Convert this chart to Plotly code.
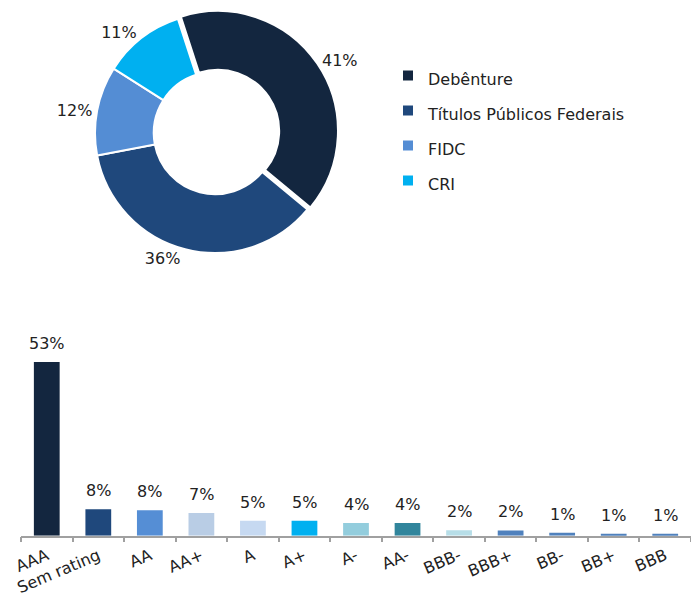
import plotly.graph_objects as go

# Donut: portfolio by asset type
asset_types = ["Debênture", "Títulos Públicos Federais", "FIDC", "CRI"]
asset_share = [41, 36, 12, 11]
asset_colors = ["#13263F", "#1F487C", "#548DD4", "#00B0F0"]

# Bars: portfolio by rating
ratings = ["AAA", "Sem rating", "AA", "AA+", "A", "A+", "A-", "AA-",
           "BBB-", "BBB+", "BB-", "BB+", "BBB"]
rating_share = [53, 8.1, 7.8, 6.9, 4.6, 4.6, 3.9, 3.9, 1.7, 1.6, 0.9, 0.6, 0.6]
rating_colors = ["#13263F", "#1F487C", "#558ED5", "#B9CDE5", "#C6D9F1",
                 "#00B0F0", "#93CDDD", "#31859C", "#B7DEE8", "#4F81BD",
                 "#4F81BD", "#4F81BD", "#4F81BD"]

FONT = "Verdana, DejaVu Sans, sans-serif"
TXT = "#222222"
W, H = 691, 596

fig = go.Figure()

fig.add_trace(go.Pie(
    labels=[f'<span style="font-size:16px">{a}</span>' for a in asset_types],
    values=asset_share,
    marker=dict(colors=asset_colors, line=dict(color="white", width=2)),
    hole=0.51,
    sort=False,
    direction="clockwise",
    rotation=-18,
    pull=[0.03, 0, 0, 0],
    textinfo="percent",
    textposition="outside",
    textfont=dict(size=16, color=TXT, family=FONT),
    domain=dict(x=[(215 - 123.6) / W, (215 + 123.6) / W],
                y=[1 - (133 + 123.6) / H, 1 - (133 - 123.6) / H]),
    automargin=False,
    showlegend=True,
))

fig.add_trace(go.Bar(
    x=ratings,
    y=rating_share,
    marker=dict(color=rating_colors, line=dict(width=0)),
    width=0.5,
    showlegend=False,
    hoverinfo="x+y",
))

for r, v in zip(ratings, rating_share):
    fig.add_annotation(x=r, y=v, text=f"{round(v)}%", showarrow=False,
                       yanchor="bottom", yshift=7,
                       font=dict(size=16, color=TXT, family=FONT))

fig.update_layout(
    width=W, height=H,
    margin=dict(l=0, r=0, t=0, b=0, autoexpand=False),
    paper_bgcolor="white",
    plot_bgcolor="white",
    font=dict(family=FONT, color=TXT, size=16),
    bargap=0.5,
    legend=dict(x=388 / W, y=1 - 53 / H, xanchor="left", yanchor="top",
                font=dict(size=24.6, color=TXT, family=FONT),
                itemclick=False, bgcolor="rgba(0,0,0,0)"),
    xaxis=dict(domain=[21 / W, 1], showline=True, linecolor="#A0A0A0",
               linewidth=1.5, ticks="outside", ticklen=5, tickcolor="#A0A0A0",
               tickwidth=1.5, tickson="boundaries", tickangle=-23,
               ticklabelstandoff=3,
               showgrid=False, zeroline=False, automargin=False,
               tickfont=dict(size=16, color=TXT, family=FONT)),
    yaxis=dict(domain=[1 - 535.7 / H, 1 - 339.1 / H], range=[0, 60],
               visible=False, showgrid=False, zeroline=False,
               automargin=False),
)

# drop the browser's default 8px body margin so the figure sits at (0, 0)
fig.write_html("out.html", config={"displayModeBar": False},
               post_script="document.body.style.margin = '0';")
